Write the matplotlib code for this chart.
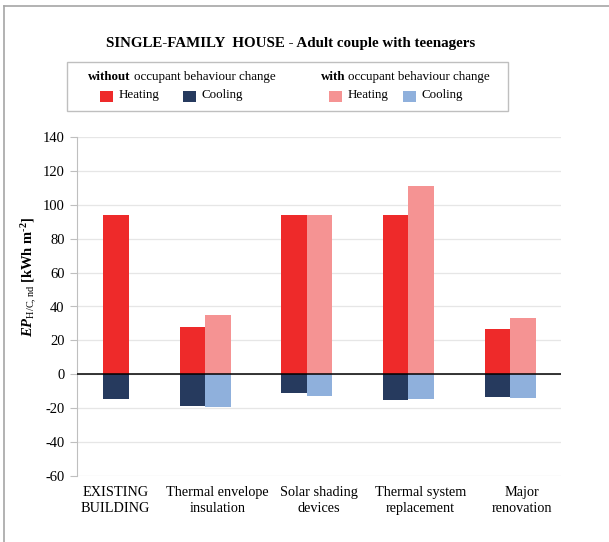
import matplotlib as mpl
import matplotlib.pyplot as plt
import numpy as np
from matplotlib.patches import Rectangle
from matplotlib.lines import Line2D

mpl.rcParams.update({
    "font.family": "Liberation Serif",
    "mathtext.fontset": "custom",
    "mathtext.rm": "Liberation Serif",
    "mathtext.it": "Liberation Serif:italic:bold",
    "mathtext.bf": "Liberation Serif:bold",
    "axes.unicode_minus": False,
})

categories = ["EXISTING\nBUILDING", "Thermal envelope\ninsulation", "Solar shading\ndevices",
              "Thermal system\nreplacement", "Major\nrenovation"]
heat_without = [94, 28, 94, 94, 26.5]
cool_without = [-14.5, -18.5, -11, -15, -13.5]
heat_with = [np.nan, 35, 94, 111, 33]
cool_with = [np.nan, -19, -13, -14.5, -14]

C_HEAT = "#EE2A2A"
C_COOL = "#263A5E"
C_HEAT_W = "#F59393"
C_COOL_W = "#8FB0DC"

W, H = 609, 542
fig = plt.figure(figsize=(W / 100, H / 100), dpi=100)
ax = fig.add_axes([77 / W, 1 - 476 / H, 484 / W, 339 / H])

x = np.arange(len(categories))
w = 0.25
# existing building has a single bar, sitting in the right slot
off_without = np.where(x == 0, w / 2, -w / 2)
ax.bar(x + off_without, heat_without, w, color=C_HEAT, zorder=3)
ax.bar(x + off_without, cool_without, w, color=C_COOL, zorder=3)
ax.bar(x + w / 2, heat_with, w, color=C_HEAT_W, zorder=3)
ax.bar(x + w / 2, cool_with, w, color=C_COOL_W, zorder=3)

ax.axhline(0, color="black", lw=1.1, zorder=4)
ax.set_ylim(-60, 140)
ax.set_yticks(np.arange(-60, 141, 20))
ax.set_xlim(-0.26, 4.50)
ax.set_xticks(x + 0.12)
ax.set_xticklabels(categories, fontsize=10.3, linespacing=1.3)
ax.tick_params(axis="x", length=0, pad=7)
ax.tick_params(axis="y", length=5, color="#BFBFBF", labelsize=10.5, pad=4)
ax.grid(axis="y", color="#E6E6E6", lw=0.9, zorder=0)
for s in ["top", "right", "bottom"]:
    ax.spines[s].set_visible(False)
ax.spines["left"].set_color("#BFBFBF")

ax.set_ylabel(r"$\mathit{EP}_{\mathrm{H/C,nd}}$ [kWh m$^{\text{-}\mathbf{2}}$]",
              fontsize=10.5, fontweight="bold")
ax.yaxis.set_label_coords(-0.077, 0.587)

fig.text(291 / W, 1 - 43 / H, "SINGLE-FAMILY  HOUSE - Adult couple with teenagers",
         ha="center", va="center", fontsize=10.8, fontweight="bold")

# legend box
fig.add_artist(Rectangle((67 / W, 1 - 111 / H), (508 - 67) / W, 49 / H,
                         transform=fig.transFigure, fill=False, ec="#BFBFBF", lw=1))

renderer = fig.canvas.get_renderer()
LEG_FS = 9.4


def legend_group(x0, bold, items):
    t = fig.text(x0 / W, 1 - 77 / H, bold, fontsize=LEG_FS, fontweight="bold",
                 va="center", ha="left")
    bb = t.get_window_extent(renderer)
    fig.text((bb.x1 + 3) / W, 1 - 77 / H, "occupant behaviour change",
             fontsize=LEG_FS, va="center", ha="left")
    for px, color, label in items:
        fig.add_artist(Rectangle((px / W, 1 - 102 / H), 13 / W, 11 / H,
                                 transform=fig.transFigure, fc=color, ec="none"))
        fig.text((px + 19) / W, 1 - 95 / H, label, fontsize=LEG_FS, va="center", ha="left")


legend_group(88, "without", [(100, C_HEAT, "Heating"), (183, C_COOL, "Cooling")])
legend_group(321, "with", [(329, C_HEAT_W, "Heating"), (403, C_COOL_W, "Cooling")])

# outer frame (top and left edges)
fig.add_artist(Line2D([4 / W, 1], [1 - 6 / H, 1 - 6 / H], transform=fig.transFigure,
                      color="#A6A6A6", lw=1.2))
fig.add_artist(Line2D([4 / W, 4 / W], [0, 1 - 6 / H], transform=fig.transFigure,
                      color="#A6A6A6", lw=1.2))

fig.savefig("out.png", dpi=100)
